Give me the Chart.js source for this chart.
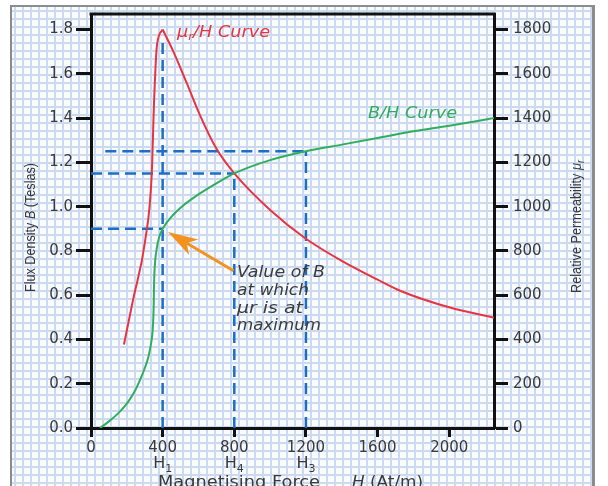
<!DOCTYPE html>
<html><head><meta charset="utf-8">
<script src="https://cdn.jsdelivr.net/npm/chart.js@4.4.0/dist/chart.umd.min.js"></script>
<style>html,body{margin:0;padding:0;background:#fff}canvas{display:block}</style>
</head><body>
<canvas id="c" width="608" height="486"></canvas>
<script>
// ---- data ----
const H_BH = [50,100,150,200,240,275,300,320,335,345,350,352,356,365,380,400,450,500,600,700,800,1000,1200,1400,1600,1800,2000,2250];
const B_BH = [0,0.03,0.065,0.11,0.16,0.22,0.27,0.32,0.38,0.45,0.55,0.65,0.73,0.8,0.86,0.9,0.955,0.995,1.055,1.105,1.15,1.21,1.25,1.28,1.31,1.34,1.365,1.40];
const H_MU = [184,235,302,339,352,368,400,460,536,610,700,800,1000,1200,1400,1600,1729,2009,2250];
const MU   = [377,580,844,1144,1472,1727,1800,1700,1555,1410,1262,1150,985,855,755,670,619,543,498];
const MARK_H = [400,800,1200];          // H1, H4, H3
const MARK_B = [0.9,1.15,1.25];         // B at those H
const MARK_TOP = [1.75,1.15,1.25];      // top of vertical dashed lines
const MARK_START = [0,0,80];            // start of horizontal dashed lines
const MARK_NAMES = ['1','4','3'];
const X_TICKS = [0,400,800,1200,1600,2000];
const B_TICKS = [0,0.2,0.4,0.6,0.8,1.0,1.2,1.4,1.6,1.8];
const MU_TICKS = [0,200,400,600,800,1000,1200,1400,1600,1800];

const RED='#e8343f', GREEN='#2fae5c', BLUE='#1b6fc6', ORANGE='#f5921e', TXT='#3a3a3a';
const SANS='"DejaVu Sans", "Liberation Sans", Arial, sans-serif';

// μr curve drawn as two branches meeting at the peak so the peak stays sharp
const pk = MU.indexOf(Math.max(...MU));
const muPts = H_MU.map((h,i)=>({x:h,y:MU[i]}));
const datasets = [
  {data:H_BH.map((h,i)=>({x:h,y:B_BH[i]})), yAxisID:'y', borderColor:GREEN, borderWidth:2, pointRadius:0, cubicInterpolationMode:'monotone', order:1},
  {data:muPts.slice(0,pk+1), yAxisID:'y1', borderColor:RED, borderWidth:2, pointRadius:0, cubicInterpolationMode:'monotone', order:1, borderJoinStyle:'miter'},
  {data:muPts.slice(pk), yAxisID:'y1', borderColor:RED, borderWidth:2, pointRadius:0, cubicInterpolationMode:'monotone', order:1}
];
MARK_H.forEach((h,i)=>{
  datasets.push({data:[{x:h,y:0},{x:h,y:MARK_TOP[i]}], yAxisID:'y', borderColor:BLUE, borderWidth:2.5, borderDash:[11,6], pointRadius:0, order:2});
  datasets.push({data:[{x:MARK_START[i],y:MARK_B[i]},{x:h,y:MARK_B[i]}], yAxisID:'y', borderColor:BLUE, borderWidth:2.5, borderDash:[11,6], pointRadius:0, order:2});
});

const paper = {
  id:'paper',
  beforeDraw(c){
    const ctx=c.ctx; ctx.save();
    ctx.fillStyle='#fff'; ctx.fillRect(0,0,608,486);
    ctx.fillStyle='#f9fbff'; ctx.fillRect(12,7,580,479);
    ctx.strokeStyle='#cbd9f1'; ctx.lineWidth=2;
    ctx.beginPath();
    for(let x=15;x<592;x+=8){ctx.moveTo(x,7);ctx.lineTo(x,486);}
    for(let y=11;y<486;y+=8){ctx.moveTo(12,y);ctx.lineTo(592,y);}
    ctx.stroke();
    ctx.fillStyle='#8c8c8c';
    ctx.fillRect(10,5,2,481); ctx.fillRect(10,5,585,2); ctx.fillRect(592,5,3,481);
    ctx.restore();
  }
};

function runsWidth(ctx, runs){
  let w=0; runs.forEach(r=>{ctx.font=r[1]; w+=ctx.measureText(r[0]).width;}); return w;
}
// draw runs of text scaled horizontally to fit a target width (target null = natural)
function drawFit(ctx, runs, x, y, target){
  const w=runsWidth(ctx,runs);
  const s=target?target/w:1;
  ctx.save(); ctx.translate(x,y); ctx.scale(s,1);
  let cx=0;
  runs.forEach(r=>{ctx.font=r[1]; ctx.fillText(r[0],cx,r[2]||0); cx+=ctx.measureText(r[0]).width;});
  ctx.restore();
}

const notes = {
  id:'notes',
  afterDraw(c){
    const ctx=c.ctx, a=c.chartArea, xs=c.scales.x, ys=c.scales.y;
    ctx.save();
    ctx.textBaseline='alphabetic'; ctx.textAlign='left';
    // top frame line
    ctx.fillStyle='#111'; ctx.fillRect(a.left-1.5,a.top-1.5,a.right-a.left+3,3);
    // arrow
    const tx=xs.getPixelForValue(430), ty=ys.getPixelForValue(0.885);
    const sx=xs.getPixelForValue(795), sy=ys.getPixelForValue(0.71);
    const ang=Math.atan2(ty-sy,tx-sx);
    ctx.strokeStyle=ORANGE; ctx.lineWidth=3;
    const hl=30;
    ctx.beginPath(); ctx.moveTo(sx,sy); ctx.lineTo(tx-Math.cos(ang)*hl*0.7,ty-Math.sin(ang)*hl*0.7); ctx.stroke();
    ctx.fillStyle=ORANGE;
    ctx.beginPath();
    ctx.moveTo(tx,ty);
    const bx=tx-Math.cos(ang)*hl, by=ty-Math.sin(ang)*hl;
    const nx=-Math.sin(ang), ny=Math.cos(ang);
    ctx.lineTo(bx+nx*9,by+ny*9);
    ctx.lineTo(tx-Math.cos(ang)*hl*0.72,ty-Math.sin(ang)*hl*0.72);
    ctx.lineTo(bx-nx*9,by-ny*9);
    ctx.closePath(); ctx.fill();
    // annotation text
    ctx.fillStyle='#3c3c3c';
    const it15='italic 15px '+SANS;
    const ax=xs.getPixelForValue(815);
    drawFit(ctx,[['Value of B',it15]],ax,277,88);
    drawFit(ctx,[['at which',it15]],ax,295,72);
    drawFit(ctx,[['\u03bcr is at',it15]],ax,313,66);
    drawFit(ctx,[['maximum',it15]],ax,330,84);
    // curve labels
    ctx.fillStyle=RED;
    drawFit(ctx,[['\u03bc','italic 15px '+SANS,0],['r','italic 10px '+SANS,3],['/H Curve','italic 15px '+SANS,0]],177,37,93);
    ctx.fillStyle=GREEN;
    drawFit(ctx,[['B/H Curve','italic 16px '+SANS]],368,118,89);
    // H subscripts under ticks
    ctx.fillStyle=TXT;
    MARK_H.forEach((h,i)=>{
      const px=xs.getPixelForValue(h);
      const runs=[['H','16px '+SANS,0],[MARK_NAMES[i],'11px '+SANS,4]];
      const w=runsWidth(ctx,runs);
      drawFit(ctx,runs,px-w/2,468,null);
    });
    // x title
    const f16='16px '+SANS;
    drawFit(ctx,[['Magnetising Force',f16]],158,487,162);
    drawFit(ctx,[['H','italic 16px '+SANS,0],[' (At/m)',f16,0]],352,487,71);
    // left title (rotated, condensed)
    const N='14px "Liberation Sans Narrow", "Liberation Sans", Arial, sans-serif';
    const NI='italic '+N;
    ctx.save(); ctx.translate(35,292); ctx.rotate(-Math.PI/2);
    drawFit(ctx,[['Flux Density ',N],['B',NI],[' (Teslas)',N]],0,0,129); ctx.restore();
    ctx.save(); ctx.translate(581,293); ctx.rotate(-Math.PI/2);
    drawFit(ctx,[['Relative Permeability ',N],['\u03bc',NI],['r','italic 10px "Liberation Sans Narrow", "Liberation Sans", Arial, sans-serif',3]],0,0,133); ctx.restore();
    ctx.restore();
  }
};

const tickFont={family:'"DejaVu Sans", "Liberation Sans", Arial, sans-serif', size:15};
new Chart(document.getElementById('c'),{
  type:'line',
  data:{datasets},
  options:{
    responsive:false, animation:false, devicePixelRatio:1,
    layout:{padding:{top:11,left:0,right:0,bottom:0}},
    plugins:{legend:{display:false},tooltip:{enabled:false}},
    scales:{
      x:{type:'linear',min:0,max:2250,
        afterBuildTicks(s){s.ticks=X_TICKS.map(v=>({value:v}));},
        afterFit(s){s.height=58;},
        ticks:{color:TXT,font:tickFont,padding:2,maxRotation:0,autoSkip:false,callback:v=>String(v)},
        grid:{display:true,drawOnChartArea:false,drawTicks:true,tickLength:9,tickWidth:3,tickColor:'#111'},
        border:{display:true,color:'#111',width:3}},
      y:{type:'linear',position:'left',min:0,max:1.87,
        afterBuildTicks(s){s.ticks=B_TICKS.map(v=>({value:v}));},
        afterFit(s){s.width=91;},
        ticks:{color:TXT,font:tickFont,padding:3,callback:v=>v.toFixed(1)},
        grid:{display:true,drawOnChartArea:false,drawTicks:true,tickLength:15,tickWidth:3,tickColor:'#111'},
        border:{display:true,color:'#111',width:3}},
      y1:{type:'linear',position:'right',min:0,max:1870,
        afterBuildTicks(s){s.ticks=MU_TICKS.map(v=>({value:v}));},
        afterFit(s){s.width=114;},
        ticks:{color:TXT,font:tickFont,padding:5,callback:v=>String(v)},
        grid:{display:true,drawOnChartArea:false,drawTicks:true,tickLength:14,tickWidth:3,tickColor:'#111'},
        border:{display:true,color:'#111',width:3}}
    }
  },
  plugins:[paper,notes]
});
</script>
</body></html>
